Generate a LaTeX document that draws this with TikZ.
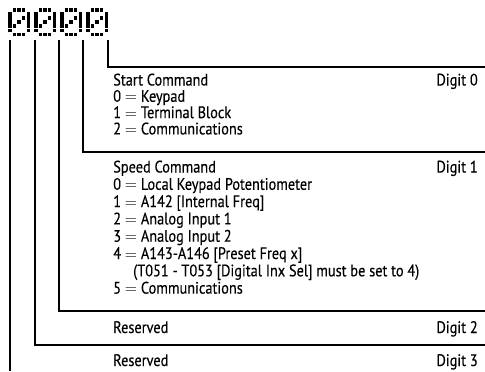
\documentclass[tikz,border=0pt]{standalone}
\usepackage{fontspec}
\setmainfont[FakeStretch=0.86,FakeBold=0.3]{PT Sans}
\newcommand\eqsign{$=$}
\begin{document}
\begin{tikzpicture}[x=0.75pt,y=-0.75pt,
  conn/.style={line width=1.5pt},
  txt/.style={anchor=base west, inner sep=0pt, font=\fontsize{12.5}{14}\selectfont},
  dig/.style={anchor=base east, inner sep=0pt, font=\fontsize{12.5}{14}\selectfont},
  dmzero/.pic={
    \foreach \c/\r in {1/0,2/0,3/0, 0/1,4/1, 0/2,3/2,4/2, 0/3,2/3,4/3, 0/4,1/4,4/4, 0/5,4/5, 1/6,2/6,3/6}
      \fill (\c*4.65,\r*4.1) rectangle ++(3.5,3.5);
  }]
\useasboundingbox (0,0) rectangle (485,371);
% dot-matrix digits
\pic (g1) at (8,8) {dmzero};
\pic (g2) at (34,8) {dmzero};
\pic (g3) at (60,8) {dmzero};
\pic (g4) at (86,8) {dmzero};
% connector ends
\coordinate (t1) at (10,40);
\coordinate (t2) at (35,40);
\coordinate (t3) at (59,40);
\coordinate (t4) at (83,40);
\coordinate (t5) at (108,40);
\coordinate (b1) at (10,371);
\coordinate (e2) at (485,345);
\coordinate (e3) at (485,311);
\coordinate (e4) at (485,152);
\coordinate (e5) at (485,67);
\draw[conn] (t1) -- (b1);
\draw[conn] (t2) |- (e2);
\draw[conn] (t3) |- (e3);
\draw[conn] (t4) |- (e4);
\draw[conn] (t5) |- (e5);
% Digit 0
\node[txt] (s0) at (113,85.5) {Start Command};
\node[txt] (s1) at (113,101.8) {0 \eqsign{} Keypad};
\node[txt] (s2) at (113,118.1) {1 \eqsign{} Terminal Block};
\node[txt] (s3) at (113,134.4) {2 \eqsign{} Communications};
\node[dig] (d0) at (478,85.5) {Digit 0};
% Digit 1
\node[txt] (p0) at (113,172.5) {Speed Command};
\node[txt] (p1) at (113,189.8) {0 \eqsign{} Local Keypad Potentiometer};
\node[txt] (p2) at (113,207.1) {1 \eqsign{} A142 [Internal Freq]};
\node[txt] (p3) at (113,224.4) {2 \eqsign{} Analog Input 1};
\node[txt] (p4) at (113,241.7) {3 \eqsign{} Analog Input 2};
\node[txt] (p5) at (113,259.0) {4 \eqsign{} A143-A146 [Preset Freq x]};
\node[txt] (p6) at (133,276.3) {(T051 - T053 [Digital Inx Sel] must be set to 4)};
\node[txt] (p7) at (113,293.6) {5 \eqsign{} Communications};
\node[dig] (d1) at (478,172.5) {Digit 1};
% Digit 2
\node[txt] (r2) at (113,333) {Reserved};
\node[dig] (d2) at (478,333) {Digit 2};
% Digit 3
\node[txt] (r3) at (113,366) {Reserved};
\node[dig] (d3) at (478,366) {Digit 3};
\end{tikzpicture}
\end{document}
